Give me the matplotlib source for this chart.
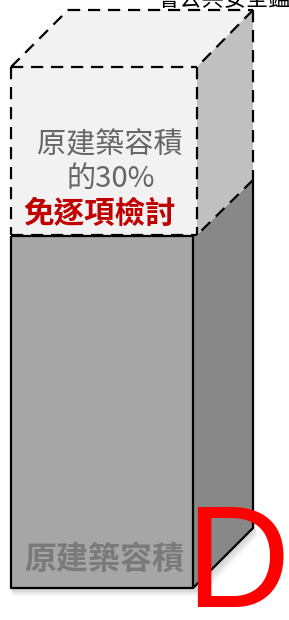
import matplotlib
matplotlib.use("Agg")
import matplotlib.pyplot as plt
from matplotlib.patches import Polygon

# ---- content ----
upper_lines = ["原建築容積", "的30%"]
upper_red = "免逐項檢討"
lower_label = "原建築容積"
corner_letter = "D"
top_caption = "會公共安全鑑定"

CJK = ["Noto Sans CJK TC", "DejaVu Sans"]

W, H = 289, 620
fig = plt.figure(figsize=(W / 100, H / 100), dpi=100)
ax = fig.add_axes([0, 0, 1, 1])
ax.set_xlim(0, W)
ax.set_ylim(H, 0)
ax.axis("off")

# geometry (pixel space)
L, R_up, R_lo = 11, 197, 193
BX, BR = 68, 253
TOP_B, TOP_F = 10, 67
MID, SIDE_MID = 235, 180
BOT, SIDE_BOT = 588, 528

# soft shadow
for i, a in enumerate([0.05, 0.05, 0.05, 0.04]):
    d = 2 + i * 2
    ax.add_patch(Polygon([(L - 1 + d * 0.3, MID + d), (R_lo + d, MID + d), (BR + d * 0.6, SIDE_BOT + d),
                          (R_lo + d, BOT + d), (L - 1 + d * 0.3, BOT + d)],
                         closed=True, fc="black", ec="none", alpha=a, zorder=1))

# lower solid box
ax.add_patch(Polygon([(L, MID + 1), (R_lo, MID + 1), (R_lo, BOT), (L, BOT)],
                     closed=True, fc="#a6a6a6", ec="none", zorder=2))
ax.add_patch(Polygon([(R_lo, MID + 1), (R_up, MID), (BR, SIDE_MID), (BR, SIDE_BOT), (R_lo, BOT)],
                     closed=True, fc="#888888", ec="none", zorder=2))
solid = dict(color="black", lw=1.6, zorder=4, solid_capstyle="butt")
ax.plot([L, R_lo, R_lo, L, L], [MID + 1, MID + 1, BOT, BOT, MID + 1], **solid)
ax.plot([R_lo, BR, BR], [BOT, SIDE_BOT, SIDE_MID], **solid)

# upper dashed box
ax.add_patch(Polygon([(L, TOP_F), (R_up, TOP_F), (R_up, MID), (L, MID)],
                     closed=True, fc="#f2f2f2", ec="none", zorder=3))
ax.add_patch(Polygon([(L, TOP_F), (BX, TOP_B), (BR, TOP_B), (R_up, TOP_F)],
                     closed=True, fc="#f3f3f3", ec="none", zorder=3))
ax.add_patch(Polygon([(R_up, TOP_F), (BR, TOP_B), (BR, SIDE_MID), (R_up, MID)],
                     closed=True, fc="#c0c0c0", ec="none", zorder=3))
dash = dict(color="black", lw=1.6, ls=(0, (5.5, 3.5)), zorder=5)
for xs, ys in [([L, R_up], [TOP_F, TOP_F]), ([L, L], [TOP_F, MID]), ([R_up, R_up], [TOP_F, MID]),
               ([L, R_up], [MID, MID]), ([L, BX], [TOP_F, TOP_B]), ([BX, BR], [TOP_B, TOP_B]),
               ([BR, R_up], [TOP_B, TOP_F]), ([BR, BR], [TOP_B, SIDE_MID]), ([BR, R_up], [SIDE_MID, MID])]:
    ax.plot(xs, ys, **dash)

# texts
ax.text(110, 145, upper_lines[0], family=CJK, fontsize=21, color="#666666",
        ha="center", va="center", zorder=6)
ax.text(111, 179, upper_lines[1], family=CJK, fontsize=21, color="#666666",
        ha="center", va="center", zorder=6)
ax.text(100, 214, upper_red, family=CJK, fontsize=22, color="#c00000", fontweight="bold",
        ha="center", va="center", zorder=6)
ax.text(104, 560, lower_label, family=CJK, fontsize=23, color="#7a7a7a", fontweight="bold",
        ha="center", va="center", zorder=6)
ax.text(185, 607, corner_letter, family=["Liberation Sans"], fontsize=104, color="#ff0000",
        ha="left", va="baseline", zorder=7)
ax.text(157, 6, top_caption, family=CJK, fontsize=16, color="black",
        ha="left", va="baseline", zorder=7)

fig.savefig("out.png", dpi=100, facecolor="white")
